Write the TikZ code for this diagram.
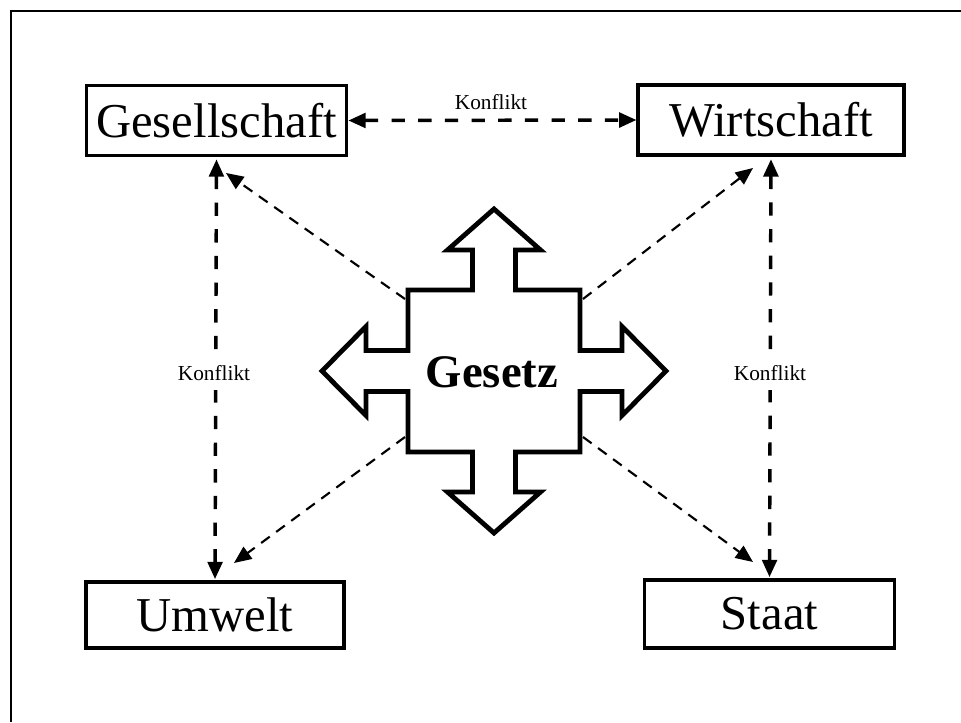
\documentclass[tikz,border=0pt]{standalone}
\usepackage{fontspec}
\setmainfont{Liberation Serif}
\usetikzlibrary{arrows.meta}
\begin{document}
\begin{tikzpicture}[x=0.75pt,y=-0.75pt,
  box/.style={draw, line width=2.8pt, inner sep=0pt, font=\fontsize{36.5}{40}\selectfont},
  konf/.style={line width=2.6pt, dash pattern=on 10pt off 10pt, {Triangle[length=13pt,width=11pt]}-{Triangle[length=13pt,width=11pt]}},
  diag/.style={line width=1.6pt, dash pattern=on 8pt off 6pt, -{Triangle[length=13pt,width=11pt]}},
  lbl/.style={font=\fontsize{16}{18}\selectfont, inner xsep=2pt, inner ysep=2pt},
  star/.style={draw, line width=3.6pt, line join=miter, fill=white}
]
\useasboundingbox (0,0) rectangle (961,722);
\draw[line width=1.6pt] (961,11) -- (11,11) -- (11,722);

\node[box, minimum width=195pt, minimum height=52.5pt] (ges) at (216.5,120.5) {Gesellschaft};
\node[box, minimum width=199pt, minimum height=53pt] (wir) at (771,120) {Wirtschaft};
\node[box, minimum width=193pt, minimum height=50pt] (umw) at (215,615) {Umwelt};
\node[box, minimum width=187.5pt, minimum height=51.5pt] (sta) at (769.5,614) {Staat};

% Gesetz shape
\begin{scope}[shift={(494,371)}]
\draw[star] (0,-162) -- (46.5,-121) -- (21.5,-121) -- (21.5,-81) -- (86,-81) -- (86,-20.5)
  -- (128,-20.5) -- (128,-44.5) -- (172,0) -- (128,44.5) -- (128,20.5) -- (86,20.5)
  -- (86,81) -- (21.5,81) -- (21.5,121) -- (46.5,121) -- (0,162) -- (-46.5,121)
  -- (-21.5,121) -- (-21.5,81) -- (-86,81) -- (-86,20.5) -- (-128,20.5) -- (-128,44.5)
  -- (-172,0) -- (-128,-44.5) -- (-128,-20.5) -- (-86,-20.5) -- (-86,-81) -- (-21.5,-81)
  -- (-21.5,-121) -- (-46.5,-121) -- cycle;
\end{scope}
\node[font=\fontsize{35}{40}\selectfont\bfseries] (gesetz) at (492,372) {Gesetz};

% diagonal start/end coordinates
\coordinate (s1) at (405,299);
\coordinate (s2) at (583,299);
\coordinate (s3) at (405,437);
\coordinate (s4) at (583,437);
\coordinate (e1) at (226,173);
\coordinate (e2) at (753,168);
\coordinate (e3) at (234,563);
\coordinate (e4) at (753,562);
\draw[diag] (s1) -- (e1);
\draw[diag] (s2) -- (e2);
\draw[diag] (s3) -- (e3);
\draw[diag] (s4) -- (e4);

% Konflikt connectors
\draw[konf] (ges.east) -- (wir.west);
\node[lbl] (k1) at (491,102) {Konflikt};
\draw[konf, shorten <=1.5pt, shorten >=0.5pt] (ges.south) -- (umw.north);
\node[lbl, fill=white, inner ysep=7pt] (k2) at (214,373) {Konflikt};
\draw[konf, shorten <=1.5pt, shorten >=0.5pt] (wir.south) -- (sta.north);
\node[lbl, fill=white, inner ysep=7pt] (k3) at (770,373) {Konflikt};
\end{tikzpicture}
\end{document}
